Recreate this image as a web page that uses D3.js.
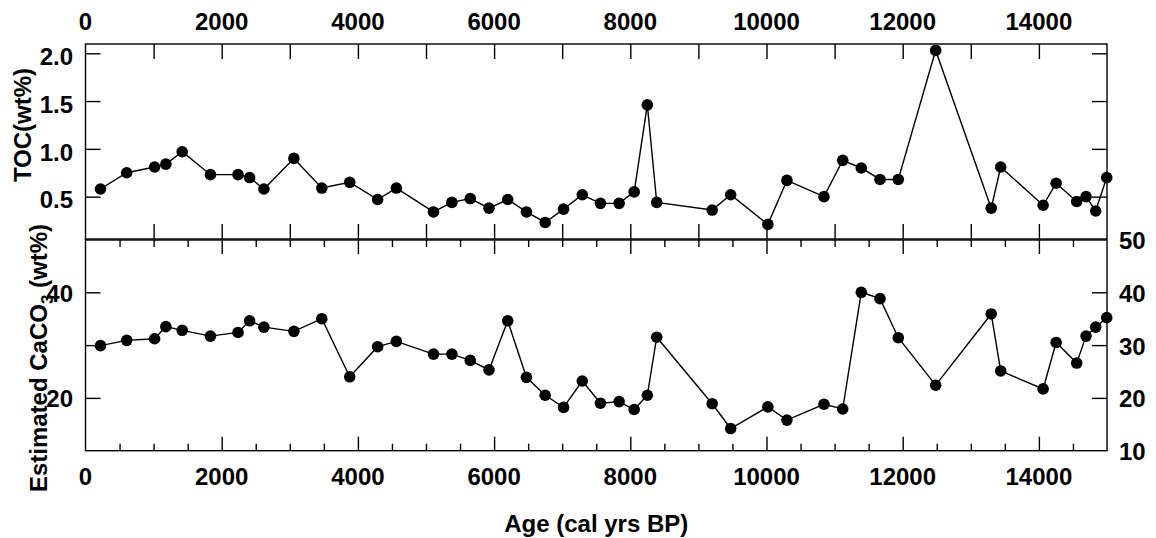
<!DOCTYPE html>
<html>
<head>
<meta charset="utf-8">
<script src="https://cdn.jsdelivr.net/npm/d3@7/dist/d3.min.js"></script>
<style>
  html, body { margin: 0; padding: 0; background: #fff; }
  svg { display: block; }
  text { font-family: "Liberation Sans", Arial, Helvetica, sans-serif; font-weight: bold; fill: #000; }
</style>
</head>
<body>
<svg id="chart" width="1156" height="538"></svg>
<script>
// ---- data ----
const ages = [220, 605, 1015, 1180, 1420, 1835, 2240, 2410, 2620, 3060, 3470, 3880, 4290, 4565, 5110, 5380, 5650, 5925, 6200, 6475, 6750, 7020, 7295, 7562, 7836, 8057, 8250, 8388, 9202, 9474, 10020, 10300, 10844, 11119, 11392, 11667, 11935, 12484, 13300, 13439, 14062, 14253, 14555, 14692, 14834, 14996];
const toc = [0.58, 0.75, 0.81, 0.84, 0.97, 0.73, 0.73, 0.70, 0.58, 0.90, 0.59, 0.65, 0.47, 0.59, 0.34, 0.44, 0.48, 0.38, 0.47, 0.34, 0.23, 0.37, 0.52, 0.43, 0.43, 0.55, 1.46, 0.44, 0.36, 0.52, 0.21, 0.67, 0.50, 0.88, 0.80, 0.68, 0.68, 2.03, 0.38, 0.81, 0.41, 0.64, 0.45, 0.50, 0.35, 0.70];
const caco3 = [29.9, 30.9, 31.2, 33.5, 32.8, 31.7, 32.4, 34.6, 33.4, 32.6, 35.0, 24.0, 29.7, 30.7, 28.3, 28.3, 27.1, 25.3, 34.6, 23.9, 20.5, 18.2, 23.2, 19.0, 19.3, 17.8, 20.5, 31.5, 18.9, 14.2, 18.3, 15.8, 18.8, 17.9, 40.0, 38.8, 31.4, 22.4, 35.9, 25.1, 21.7, 30.5, 26.6, 31.7, 33.4, 35.2];

const xTickLabels = [0, 2000, 4000, 6000, 8000, 10000, 12000, 14000];
const tocTicks = [0.5, 1.0, 1.5, 2.0];
const tocTickLabels = ["0.5", "1.0", "1.5", "2.0"];
const caTicks = [20, 30, 40];
const caLeftLabels = [20, 40];
const caRightLabels = [10, 20, 30, 40, 50];

const xTitle = "Age (cal yrs BP)";
const tocTitle = "TOC(wt%)";

// ---- layout ----
const L = 85.5, R = 1107;
const T1 = 44, B1 = 239;       // top panel
const T2 = 240, B2 = 450.7;    // bottom panel
const svg = d3.select("#chart");

const x = d3.scaleLinear().domain([0, 15000]).range([L, R]);
const yT = d3.scaleLinear().domain([0.057, 2.097]).range([B1, T1]);
const yB = d3.scaleLinear().domain([10, 50]).range([B2, T2 - 0.5]);

const STROKE = 1.4;

function frame(top, bottom) {
  svg.append("rect").attr("x", L).attr("y", top).attr("width", R - L).attr("height", bottom - top)
    .attr("fill", "none").attr("stroke", "#000").attr("stroke-width", STROKE);
}

function styleAxis(g) {
  g.select(".domain").remove();
  g.selectAll(".tick line").attr("stroke", "#000").attr("stroke-width", STROKE);
  g.selectAll(".tick text").remove();
}

// ---- top panel ticks ----
const kilo = d3.range(1000, 15000, 1000);
svg.append("g").attr("transform", `translate(0,${T1})`)
  .call(d3.axisBottom(x).tickValues(kilo).tickSize(15)).call(styleAxis);
svg.append("g").attr("transform", `translate(0,${B1})`)
  .call(d3.axisTop(x).tickValues(kilo).tickSize(15)).call(styleAxis);
svg.append("g").attr("transform", `translate(${L},0)`)
  .call(d3.axisRight(yT).tickValues(tocTicks).tickSize(15)).call(styleAxis);
svg.append("g").attr("transform", `translate(${R},0)`)
  .call(d3.axisLeft(yT).tickValues(tocTicks).tickSize(15)).call(styleAxis);

// ---- bottom panel ticks ----
const minor = d3.range(500, 15000, 500).filter(v => v % 2000 !== 0);
const major = d3.range(2000, 15000, 2000);
svg.append("g").attr("transform", `translate(0,${T2})`)
  .call(d3.axisBottom(x).tickValues(minor).tickSize(7)).call(styleAxis);
svg.append("g").attr("transform", `translate(0,${T2})`)
  .call(d3.axisBottom(x).tickValues(major).tickSize(14)).call(styleAxis);
svg.append("g").attr("transform", `translate(0,${B2})`)
  .call(d3.axisTop(x).tickValues(minor).tickSize(7)).call(styleAxis);
svg.append("g").attr("transform", `translate(0,${B2})`)
  .call(d3.axisTop(x).tickValues(major).tickSize(14)).call(styleAxis);
svg.append("g").attr("transform", `translate(${L},0)`)
  .call(d3.axisRight(yB).tickValues(caTicks).tickSize(15)).call(styleAxis);
svg.append("g").attr("transform", `translate(${R},0)`)
  .call(d3.axisLeft(yB).tickValues(caTicks).tickSize(15)).call(styleAxis);

frame(T1, B1);
frame(T2, B2);

// ---- tick labels ----
const FS = 24;
svg.append("g").selectAll("text").data(xTickLabels).join("text")
  .attr("x", d => x(d)).attr("y", 30).attr("text-anchor", "middle")
  .attr("font-size", FS).text(d => d);
svg.append("g").selectAll("text").data(xTickLabels).join("text")
  .attr("x", d => x(d)).attr("y", 485).attr("text-anchor", "middle")
  .attr("font-size", FS).text(d => d);
svg.append("g").selectAll("text").data(tocTicks).join("text")
  .attr("x", 73).attr("y", d => yT(d) + 11.7).attr("text-anchor", "end")
  .attr("font-size", FS).text((d, i) => tocTickLabels[i]);
svg.append("g").selectAll("text").data(caLeftLabels).join("text")
  .attr("x", 73).attr("y", d => yB(d) + 9.5).attr("text-anchor", "end")
  .attr("font-size", FS).text(d => d);
svg.append("g").selectAll("text").data(caRightLabels).join("text")
  .attr("x", 1119).attr("y", d => yB(d) + 9.4).attr("text-anchor", "start")
  .attr("font-size", FS).text(d => d);

// ---- axis titles ----
svg.append("text").attr("x", (L + R) / 2).attr("y", 532).attr("text-anchor", "middle")
  .attr("font-size", FS).text(xTitle);
svg.append("text").attr("transform", "translate(30.7,125) rotate(-90)")
  .attr("text-anchor", "middle").attr("font-size", FS).text(tocTitle);
const ca = svg.append("text").attr("transform", "translate(46.7,358) rotate(-90)")
  .attr("text-anchor", "middle").attr("font-size", FS);
ca.append("tspan").text("Estimated CaCO");
ca.append("tspan").attr("font-size", 17).attr("dy", 6).text("3");
ca.append("tspan").attr("dy", -6).text(" (wt%)");

// ---- series ----
const line = (ys) => d3.line().x((d, i) => x(ages[i])).y(d => ys(d));
function series(vals, ys) {
  svg.append("path").datum(vals).attr("d", line(ys))
    .attr("fill", "none").attr("stroke", "#000").attr("stroke-width", 1.4);
  svg.append("g").selectAll("circle").data(vals).join("circle")
    .attr("cx", (d, i) => x(ages[i])).attr("cy", d => ys(d)).attr("r", 5.8).attr("fill", "#000");
}
series(toc, yT);
series(caco3, yB);
</script>
</body>
</html>
